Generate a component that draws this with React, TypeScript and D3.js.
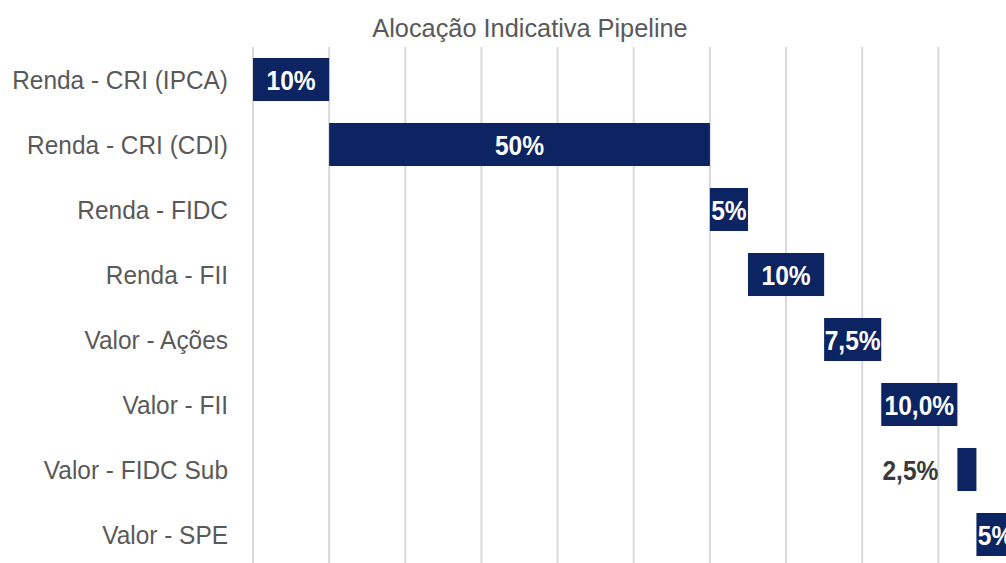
import React from "react";
import * as d3 from "d3";

const categories = [
  "Renda - CRI (IPCA)",
  "Renda - CRI (CDI)",
  "Renda - FIDC",
  "Renda - FII",
  "Valor - Ações",
  "Valor - FII",
  "Valor - FIDC Sub",
  "Valor - SPE",
];
const values = [10, 50, 5, 10, 7.5, 10, 2.5, 5];
const valueLabels = ["10%", "50%", "5%", "10%", "7,5%", "10,0%", "2,5%", "5%"];
const gridTicks = [0, 10, 20, 30, 40, 50, 60, 70, 80, 90, 100];
const title = "Alocação Indicativa Pipeline";

const W = 1006;
const H = 563;
const FONT = "'Liberation Sans', Arial, sans-serif";
const NAVY = "#0c2461";

function SText(props: {
  x: number;
  y: number;
  sx: number;
  anchor: string;
  size: number;
  weight?: string;
  fill: string;
  children: React.ReactNode;
}) {
  return (
    <text
      transform={`translate(${props.x},${props.y}) scale(${props.sx},1)`}
      x={0}
      y={0}
      textAnchor={props.anchor}
      fontSize={props.size}
      fontWeight={props.weight || "normal"}
      fill={props.fill}
    >
      {props.children}
    </text>
  );
}

export default function App() {
  const x = d3.scaleLinear().domain([0, 100]).range([253, 1014.5]);
  const y = d3
    .scaleBand<string>()
    .domain(categories)
    .range([47, 567])
    .paddingInner(0.338)
    .paddingOuter(0.169);

  const starts: number[] = [];
  let acc = 0;
  values.forEach((v) => {
    starts.push(acc);
    acc += v;
  });

  return (
    <svg
      width={W}
      height={H}
      style={{ position: "absolute", left: 0, top: 0, background: "#fff" }}
      fontFamily={FONT}
    >
      <rect x={0} y={0} width={W} height={H} fill="#fff" />
      {gridTicks.map((t) => (
        <line key={t} x1={x(t)} x2={x(t)} y1={47} y2={H} stroke="#d9d9d9" strokeWidth={2} />
      ))}
      <SText x={530} y={37} sx={0.975} anchor="middle" size={26} fill="#595959">
        {title}
      </SText>
      {categories.map((c, i) => {
        const y0 = y(c)!;
        const bh = y.bandwidth();
        const x0 = x(starts[i]);
        const x1 = x(starts[i] + values[i]);
        const cy = y0 + bh / 2;
        const inside = values[i] >= 5;
        return (
          <g key={c}>
            <SText x={228} y={cy + 9} sx={0.94} anchor="end" size={26} fill="#595959">
              {c}
            </SText>
            <rect x={x0} y={y0} width={x1 - x0} height={bh} fill={NAVY} />
            {inside ? (
              <SText x={(x0 + x1) / 2} y={cy + 10} sx={0.91} anchor="middle" size={27} weight="bold" fill="#fff">
                {valueLabels[i]}
              </SText>
            ) : (
              <SText x={x0 - 19} y={cy + 10} sx={0.91} anchor="end" size={27} weight="bold" fill="#3a3a3a">
                {valueLabels[i]}
              </SText>
            )}
          </g>
        );
      })}
    </svg>
  );
}
